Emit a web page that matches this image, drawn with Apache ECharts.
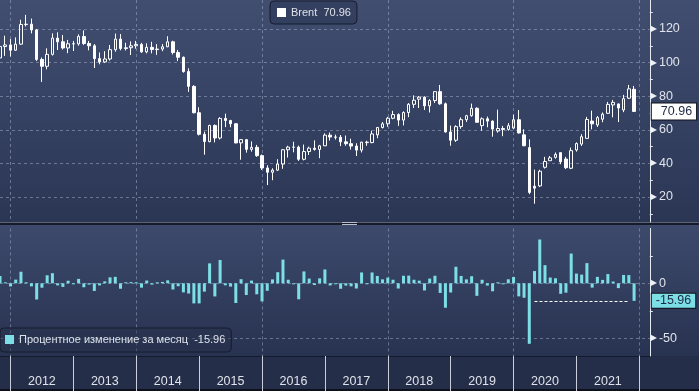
<!DOCTYPE html>
<html><head><meta charset="utf-8">
<script src="https://cdn.jsdelivr.net/npm/echarts@6/dist/echarts.min.js"></script>
<style>html,body{margin:0;padding:0;background:#2a3452;}#c{width:699px;height:391px;}</style>
</head><body><div id="c"></div>
<script>
// Monthly categories (Oct 2011 .. Feb 2022)
const months = [
'2011-10','2011-11','2011-12',
'2012-01','2012-02','2012-03','2012-04','2012-05','2012-06','2012-07','2012-08','2012-09','2012-10','2012-11','2012-12',
'2013-01','2013-02','2013-03','2013-04','2013-05','2013-06','2013-07','2013-08','2013-09','2013-10','2013-11','2013-12',
'2014-01','2014-02','2014-03','2014-04','2014-05','2014-06','2014-07','2014-08','2014-09','2014-10','2014-11','2014-12',
'2015-01','2015-02','2015-03','2015-04','2015-05','2015-06','2015-07','2015-08','2015-09','2015-10','2015-11','2015-12',
'2016-01','2016-02','2016-03','2016-04','2016-05','2016-06','2016-07','2016-08','2016-09','2016-10','2016-11','2016-12',
'2017-01','2017-02','2017-03','2017-04','2017-05','2017-06','2017-07','2017-08','2017-09','2017-10','2017-11','2017-12',
'2018-01','2018-02','2018-03','2018-04','2018-05','2018-06','2018-07','2018-08','2018-09','2018-10','2018-11','2018-12',
'2019-01','2019-02','2019-03','2019-04','2019-05','2019-06','2019-07','2019-08','2019-09','2019-10','2019-11','2019-12',
'2020-01','2020-02','2020-03','2020-04','2020-05','2020-06','2020-07','2020-08','2020-09','2020-10','2020-11','2020-12',
'2021-01','2021-02','2021-03','2021-04','2021-05','2021-06','2021-07','2021-08','2021-09','2021-10','2021-11','2021-12',
'2022-01','2022-02'
];

// Brent monthly OHLC (Oct 2011 .. Nov 2021)
const opens = [
102.76,109.56,110.52,
107.38,110.98,122.66,122.88,119.47,101.87,97.80,104.92,114.57,112.39,108.70,111.23,
111.11,115.55,111.38,110.02,102.37,100.39,102.16,107.70,114.01,108.37,108.84,110.00,
110.80,106.40,109.07,107.76,108.07,109.41,112.36,106.02,103.19,94.67,85.86,70.15,
57.33,52.99,62.58,55.11,66.78,65.56,63.59,52.21,54.15,48.37,49.56,44.61,
37.28,34.74,35.97,39.60,48.13,49.69,49.68,42.46,47.04,49.06,48.30,50.47,
56.82,55.70,55.59,52.83,51.73,50.31,47.92,52.65,52.38,57.00,61.37,63.57,
66.87,69.05,65.78,70.27,75.17,78.20,79.44,74.25,77.42,82.72,75.47,58.71,
53.80,61.89,66.03,68.39,72.80,62.50,66.55,65.17,59.30,60.78,60.23,61.00,
66.00,57.00,49.40,26.40,26.60,37.70,41.60,43.60,46.40,42.60,37.10,48.00,
51.50,54.90,65.20,62.90,66.30,69.80,74.80,75.40,71.80,78.80,84.10
];
const closes = [
109.56,110.52,107.38,
110.98,122.66,122.88,119.47,101.87,97.80,104.92,114.57,112.39,108.70,111.23,111.11,
115.55,111.38,110.02,102.37,100.39,102.16,107.70,114.01,108.37,108.84,110.00,110.80,
106.40,109.07,107.76,108.07,109.41,112.36,106.02,103.19,94.67,85.86,70.15,57.33,
52.99,62.58,55.11,66.78,65.56,63.59,52.21,54.15,48.37,49.56,44.61,37.28,
34.74,35.97,39.60,48.13,49.69,49.68,42.46,47.04,49.06,48.30,50.47,56.82,
55.70,55.59,52.83,51.73,50.31,47.92,52.65,52.38,57.54,61.37,63.57,66.87,
69.05,65.78,70.27,75.17,77.59,79.44,74.25,77.42,82.72,75.47,58.71,53.80,
61.89,66.03,68.39,72.80,64.49,66.55,65.17,60.43,60.78,60.23,62.43,66.00,
58.16,50.52,22.74,25.27,35.33,41.15,43.30,45.28,40.95,37.46,47.59,51.80,
55.88,66.13,63.54,67.25,69.32,75.13,76.33,72.99,78.52,84.38,70.96
];
const lows = [
99.3,104.0,103.6,
107.0,110.5,121.5,117.4,101.0,88.5,96.0,104.2,107.5,107.8,105.6,106.9,
110.1,110.5,107.3,96.8,99.0,99.8,101.2,106.5,107.3,107.2,104.5,108.3,
105.8,105.5,105.5,104.6,106.8,109.2,104.8,100.9,94.0,82.6,69.8,56.6,
45.2,52.5,52.5,54.2,61.6,61.5,51.9,42.2,46.4,47.0,43.9,36.1,
27.1,30.0,35.6,36.8,43.5,46.6,41.5,41.8,45.0,47.6,43.1,50.3,
53.6,54.2,50.3,50.5,48.2,44.4,46.5,50.5,52.0,55.0,60.8,61.8,
66.3,62.3,62.6,67.5,73.0,73.0,71.8,70.3,76.0,74.9,58.4,50.5,
52.8,60.6,64.7,67.8,64.4,59.5,61.5,55.9,58.3,56.2,59.5,60.3,
57.7,50.2,21.7,16.0,25.9,36.9,41.5,42.8,39.5,36.6,36.6,47.0,
50.4,54.7,60.3,61.7,64.5,69.5,67.4,64.6,70.5,78.3,70.6
];
const highs = [
112.2,116.0,114.0,
115.0,125.5,128.4,126.2,120.0,103.0,108.5,117.4,118.0,116.4,113.5,112.9,
116.8,119.2,112.9,111.0,106.0,106.8,110.5,117.3,117.0,111.8,112.6,112.9,
111.8,111.5,112.4,111.0,111.0,115.7,113.0,107.5,103.6,96.6,86.5,73.4,
58.9,63.0,63.2,67.5,69.6,65.9,64.0,54.3,54.4,53.1,51.0,45.3,
38.9,37.1,42.5,48.5,50.5,52.9,50.6,51.2,50.0,53.7,51.0,57.9,
58.4,57.1,56.9,56.6,54.7,52.0,52.9,53.5,59.5,61.7,64.6,67.7,
71.3,69.8,71.0,75.9,80.5,80.1,79.9,78.2,82.9,86.7,76.2,62.5,
62.7,67.4,68.9,75.6,73.4,67.4,67.9,65.6,72.0,62.3,64.0,69.0,
71.8,60.3,54.3,36.3,36.2,43.9,44.4,46.5,46.5,43.9,49.4,52.5,
57.4,67.7,71.4,68.2,70.3,76.6,77.8,75.6,80.8,86.7,86.1
];
// Monthly percent change
const pct = [
6.62,0.88,-2.84,
3.35,10.52,0.18,-2.78,-14.73,-4.00,7.28,9.20,-1.90,-3.28,2.33,-0.11,
4.00,-3.61,-1.22,-6.95,-1.93,1.76,5.42,5.86,-4.95,0.43,1.06,0.73,
-3.97,2.51,-1.20,0.29,1.24,2.70,-5.64,-2.67,-8.26,-9.31,-18.30,-18.27,
-7.57,18.10,-11.94,21.18,-1.83,-3.00,-17.90,3.72,-10.67,2.46,-9.99,-16.43,
-6.81,3.54,10.09,21.54,3.24,-0.02,-14.53,10.79,4.29,-1.55,4.49,12.58,
-1.97,-0.20,-4.97,-2.08,-2.75,-4.75,9.87,-0.51,9.85,6.66,3.58,5.19,
3.26,-4.74,6.83,6.97,3.22,2.38,-6.53,4.27,6.85,-8.76,-22.21,-8.36,
15.04,6.69,3.57,6.45,-11.41,3.19,-2.07,-7.27,0.58,-0.90,3.65,5.72,
-11.88,-13.14,-54.99,11.13,39.81,16.47,5.22,4.57,-9.56,-8.52,27.04,8.85,
7.88,18.34,-3.92,5.84,3.08,8.38,1.60,-4.38,7.58,7.46,-15.96
];
const priceTicks = [20, 40, 60, 80, 100, 120];
const pctTicks = [0, -50];
const refLineStart = '2020-04', refLineEnd = '2021-10';

const FONT = 'Liberation Sans';
const lastClose = closes[closes.length - 1];
const lastPct = pct[pct.length - 1];
const candleData = opens.map((o, i) => [o, closes[i], lows[i], highs[i]]);

const dashed = { color: 'rgba(165,178,202,0.5)', width: 1, type: [3, 3] };
const labelColor = '#dfe3eb';
const isYearEnd = v => v.slice(5) === '12';
const isOddYearEnd = v => v.slice(5) === '12' && (+v.slice(0, 4)) % 2 === 1;

function yLabel(list) {
  return v => list.indexOf(Math.round(v * 100) / 100) >= 0 ? '{t|▶}{v|' + v + '}' : '';
}
const yRich = {
  t: { fontSize: 8, color: '#eef1f6', padding: [0, 2, 0, 0], fontFamily: 'DejaVu Sans' },
  v: { fontSize: 12.5, color: labelColor, fontFamily: FONT }
};

const chart = echarts.init(document.getElementById('c'));
const grad = (a, b) => new echarts.graphic.LinearGradient(0, 0, 0, 1, [{ offset: 0, color: a }, { offset: 1, color: b }]);

chart.setOption({
  animation: false,
  backgroundColor: '#283250',
  graphic: [
    { type: 'rect', z: -10, silent: true, shape: { x: 0, y: 0, width: 699, height: 222 }, style: { fill: grad('#414e70', '#2b3655') } },
    { type: 'rect', z: -10, silent: true, shape: { x: 0, y: 222, width: 699, height: 3 }, style: { fill: '#161c2b' } },
    { type: 'rect', z: -10, silent: true, shape: { x: 0, y: 222, width: 699, height: 1 }, style: { fill: '#5b6274' } },
    { type: 'rect', z: -9, silent: true, shape: { x: 342, y: 222, width: 15, height: 1 }, style: { fill: '#b9c0cc' } },
    { type: 'rect', z: -9, silent: true, shape: { x: 342, y: 224, width: 15, height: 1 }, style: { fill: '#b9c0cc' } },
    { type: 'rect', z: -10, silent: true, shape: { x: 0, y: 225, width: 699, height: 131 }, style: { fill: grad('#3d4a6b', '#283251') } },
    { type: 'rect', z: -10, silent: true, shape: { x: 0, y: 356, width: 699, height: 35 }, style: { fill: '#252e49' } },
    { type: 'rect', z: -10, silent: true, shape: { x: 0, y: 389, width: 699, height: 2 }, style: { fill: '#0d111c' } }
  ],
  legend: [
    {
      data: [{ name: 'Brent', itemStyle: { color: '#ffffff', borderWidth: 0 } }],
      left: 270, top: 1, orient: 'horizontal', icon: 'rect', itemWidth: 9, itemHeight: 9,
      padding: [6, 6, 6, 7], backgroundColor: 'rgba(38,48,76,0.45)', borderColor: '#171d2e', borderWidth: 1, borderRadius: 4,
      selectedMode: false,
      textStyle: { color: '#dde2ea', fontSize: 11, fontFamily: FONT },
      formatter: () => 'Brent  ' + lastClose.toFixed(2)
    },
    {
      data: [{ name: 'Процентное изменение за месяц', itemStyle: { color: '#7ddfe6' } }],
      left: 0, top: 328, icon: 'rect', itemWidth: 9, itemHeight: 9,
      padding: [6, 6, 7, 5], backgroundColor: 'rgba(38,48,76,0.45)', borderColor: '#171d2e', borderWidth: 1, borderRadius: 4,
      selectedMode: false,
      textStyle: { color: '#dde2ea', fontSize: 11, fontFamily: FONT },
      formatter: name => name + '  ' + lastPct.toFixed(2)
    }
  ],
  grid: [
    { left: -1.2, top: 0, width: 651, height: 222 },
    { left: -1.2, top: 228.4, width: 651, height: 127.6 }
  ],
  xAxis: [
    {
      type: 'category', gridIndex: 0, data: months, boundaryGap: false,
      axisLine: { show: false, onZero: false }, axisTick: { show: false }, axisLabel: { show: false },
      splitLine: { show: true, interval: (i, v) => isOddYearEnd(v), lineStyle: dashed }
    },
    {
      type: 'category', gridIndex: 1, data: months, boundaryGap: false, position: 'bottom',
      axisLine: { show: true, onZero: false, lineStyle: { color: '#121a2c', width: 1 } },
      axisTick: { show: true, interval: (i, v) => isYearEnd(v), length: 35, lineStyle: { color: '#c9ced8', width: 1 } },
      axisLabel: {
        show: true, interval: (i, v) => v.slice(5) === '06', formatter: v => v.slice(0, 4),
        color: labelColor, fontSize: 12.5, fontFamily: FONT, margin: 19
      },
      splitLine: { show: true, interval: (i, v) => isOddYearEnd(v), lineStyle: dashed }
    }
  ],
  yAxis: [
    {
      type: 'value', gridIndex: 0, position: 'right', min: 5.12, max: 137.26, minInterval: 20, maxInterval: 20,
      axisLine: { show: true, lineStyle: { color: '#e6eaf1', width: 1 } },
      axisTick: { show: false },
      minorTick: { show: true, splitNumber: 2, length: 3, lineStyle: { color: '#e6eaf1' } },
      axisLabel: { show: true, showMinLabel: false, showMaxLabel: false, margin: 1, formatter: yLabel(priceTicks), rich: yRich },
      splitLine: { show: true, showMinLine: false, showMaxLine: false, lineStyle: dashed }
    },
    {
      type: 'value', gridIndex: 1, position: 'right', min: -66.09, max: 49.9, minInterval: 50, maxInterval: 50,
      axisLine: { show: true, lineStyle: { color: '#e6eaf1', width: 1 } },
      axisTick: { show: false },
      minorTick: { show: true, splitNumber: 2, length: 3, lineStyle: { color: '#e6eaf1' } },
      axisLabel: { show: true, showMinLabel: false, showMaxLabel: false, margin: 1, formatter: yLabel(pctTicks), rich: yRich },
      splitLine: { show: true, showMinLine: false, showMaxLine: false, lineStyle: dashed }
    }
  ],
  series: [
    {
      name: 'Brent', type: 'candlestick', xAxisIndex: 0, yAxisIndex: 0, data: candleData, barWidth: 3,
      itemStyle: { color: 'rgba(0,0,0,0)', color0: '#ffffff', borderColor: '#ffffff', borderColor0: '#ffffff', borderWidth: 1 },
      markLine: {
        silent: true, symbol: ['none', 'none'],
        data: [{
          yAxis: lastClose, lineStyle: { color: 'rgba(0,0,0,0)', width: 0 },
          label: {
            show: true, position: 'end', distance: 2, formatter: lastClose.toFixed(2),
            color: '#1e2944', fontSize: 12.5, fontFamily: FONT,
            backgroundColor: '#ffffff', borderColor: '#0c0f18', borderWidth: 1, padding: [2, 4, 1, 9]
          }
        }]
      }
    },
    {
      name: 'Процентное изменение за месяц', type: 'bar', xAxisIndex: 1, yAxisIndex: 1, data: pct,
      barWidth: 3, barMinHeight: 1, itemStyle: { color: '#7ddfe6' },
      markLine: {
        silent: true, symbol: ['none', 'none'],
        data: [
          [
            { coord: [refLineStart, lastPct], lineStyle: { color: '#ffffff', width: 1, type: [3, 2] }, label: { show: false } },
            { coord: [refLineEnd, lastPct] }
          ],
          {
            yAxis: lastPct, lineStyle: { color: 'rgba(0,0,0,0)', width: 0 },
            label: {
              show: true, position: 'end', distance: 2, formatter: lastPct.toFixed(2),
              color: '#1b2946', fontSize: 12.5, fontFamily: FONT,
              backgroundColor: '#7ddfe6', borderColor: '#0c0f18', borderWidth: 1, padding: [1, 4, 0, 4]
            }
          }
        ]
      }
    }
  ]
});
</script></body></html>
